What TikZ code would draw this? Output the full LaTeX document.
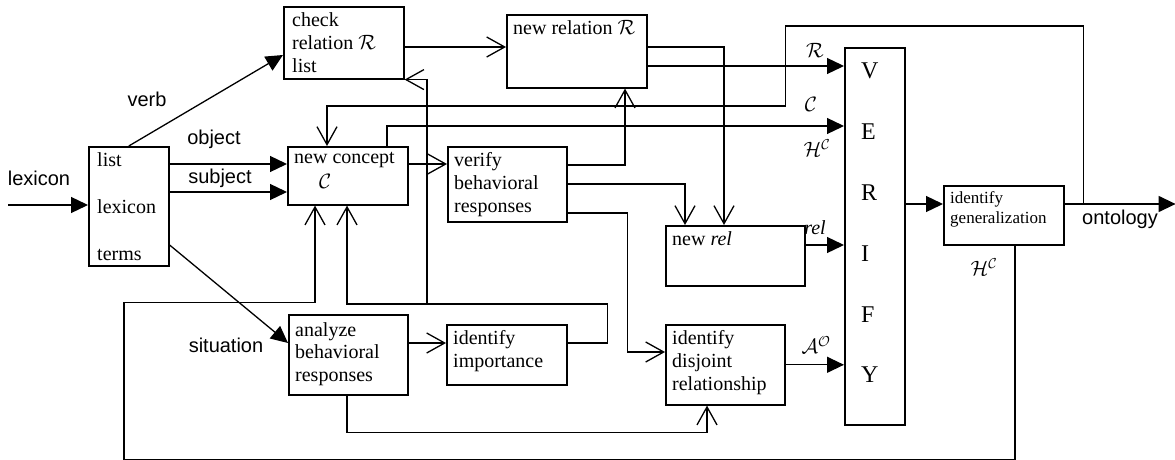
\documentclass[tikz,border=0pt]{standalone}
\usepackage{fontspec}
\setmainfont{Liberation Serif}
\setsansfont{Liberation Sans}
\usetikzlibrary{arrows.meta}

\tikzset{
  box/.style={draw, line width=1.6pt, inner sep=0pt, anchor=north west},
  txt/.style={anchor=north west, align=left, inner xsep=7pt, inner ysep=6pt, font=\fontsize{20}{23}\selectfont},
  lbl/.style={font=\sffamily\fontsize{20}{23}\selectfont, inner sep=0pt},
  mlbl/.style={font=\fontsize{20}{23}\selectfont, inner sep=0pt},
  fed/.style={line width=1.3pt, -{Triangle[length=17pt,width=16pt]}},
  opn/.style={line width=1.3pt, -{Straight Barb[length=18pt,width=20pt]}},
}

\begin{document}
\begin{tikzpicture}[x=1pt, y=-1pt]
    \useasboundingbox (0,0) rectangle (1175,460);
    % boxes
    \node[box, minimum width=80pt, minimum height=119pt] (lex) at (88,146) {};
    \node[txt, inner xsep=9pt] (lext) at (lex.north west) {list\\[24pt]lexicon\\[24pt]terms};
    \node[box, minimum width=120pt, minimum height=72pt] (chk) at (283,6) {};
    \node[txt, inner xsep=9pt] (chkt) at (chk.north west) {check\\relation $\mathcal{R}$\\list};
    \node[box, minimum width=120pt, minimum height=58pt] (nc) at (287,146) {};
    \node[txt] (nct) at (nc.north west) {new concept\\[2pt]\hspace*{25pt}$\mathcal{C}$};
    \node[box, minimum width=140pt, minimum height=73pt] (nr) at (506,14) {};
    \node[txt] (nrt) at (nr.north west) {new relation $\mathcal{R}$};
    \node[box, minimum width=119pt, minimum height=75pt] (vb) at (447,146) {};
    \node[txt] (vbt) at (vb.north west) {verify\\behavioral\\responses};
    \node[box, minimum width=139pt, minimum height=60pt] (nrel) at (665,225) {};
    \node[txt] (nrelt) at (nrel.north west) {new \textit{rel}};
    \node[box, minimum width=60pt, minimum height=377pt] (ver) at (844,47) {};
    \node[anchor=north west, align=left, inner sep=0pt, font=\fontsize{24}{60.8}\selectfont] (vert) at (861,63) {V\\E\\R\\I\\F\\Y};
    \node[box, minimum width=120pt, minimum height=59pt] (ig) at (943,185) {};
    \node[txt, font=\fontsize{17}{20}\selectfont] (igt) at (ig.north west) {identify\\generalization};
    \node[box, minimum width=119pt, minimum height=80pt] (an) at (288,314) {};
    \node[txt, inner ysep=8pt, font=\fontsize{20}{22.5}\selectfont] (ant) at (an.north west) {analyze\\behavioral\\responses};
    \node[box, minimum width=120pt, minimum height=60pt] (ii) at (446,324) {};
    \node[txt] (iit) at (ii.north west) {identify\\importance};
    \node[box, minimum width=119pt, minimum height=80pt] (idr) at (665,324) {};
    \node[txt] (idrt) at (idr.north west) {identify\\disjoint\\relationship};

    % words out of the lexicon
    \coordinate (in) at (8,205);
    \draw[fed] (in) -- (in -| lex.west);
    \node[lbl] (lexl) at (39,178) {lexicon};
    \draw[fed] (lex.north) -- ([yshift=-49pt]chk.north west);
    \node[lbl] (verbl) at (147,99) {verb};
    \draw[fed] ([yshift=-18pt]lex.north east) -- ([yshift=-18pt]nc.north west);
    \node[lbl] (objl) at (214,139) {object};
    \draw[fed] ([yshift=-46pt]lex.north east) -- ([yshift=-46pt]nc.north west);
    \node[lbl] (subl) at (220,178) {subject};
    \draw[fed] ([yshift=-99pt]lex.north east) -- ([yshift=-29pt]an.north west);
    \node[lbl] (sitl) at (226,345) {situation};

    % relations
    \draw[opn] ([yshift=-41pt]chk.north east) -- ([yshift=-33pt]nr.north west);
    \draw[opn] ([yshift=-33pt]nr.north east) -| ([xshift=59pt]nrel.north west);
    \draw[fed] ([yshift=-52pt]nr.north east) coordinate (rr) -- (rr -| ver.west);
    \node[mlbl] (rl) at (815,50) {$\mathcal{R}$};

    \draw[opn] ([yshift=-18pt]nc.north east) -- ([yshift=-18pt]vb.north west);
    \draw[opn] ([yshift=-19pt]vb.north east) -| ([xshift=119pt]nr.south west);
    \draw[opn] ([yshift=-38pt]vb.north east) -| ([xshift=20pt]nrel.north west);
    \draw[opn] ([yshift=-67pt]vb.north east) -- ++(60,0) |- ([yshift=-28pt]idr.north west);

    % into VERIFY
    \draw[fed] ([xshift=100pt]nc.north west) |- ([yshift=-79pt]ver.north west);
    \node[mlbl] (cl) at (811,104) {$\mathcal{C}$};
    \node[mlbl] (hl) at (817,148) {$\mathcal{H}^{\mathcal{C}}$};
    \draw[fed] ([yshift=-20pt]nrel.north east) coordinate (re) -- (re -| ver.west);
    \node[mlbl] (rell) at (815,228) {\textit{rel}};
    \draw[fed] (idr.east) -- (idr.east -| ver.west);
    \node[mlbl] (aol) at (816,345) {$\mathcal{A}^{\mathcal{O}}$};

    % generalization, ontology and feedback
    \coordinate (gi) at ([yshift=-19pt]ig.north west);
    \draw[fed] (gi -| ver.east) -- (gi);
    \draw[fed] ([yshift=-19pt]ig.north east) -- ++(111,0) coordinate (out);
    \node[lbl] (ontl) at (1120,219) {ontology};
    \draw[opn] ([xshift=19pt,yshift=-19pt]ig.north east) -- ++(0,-178) -| ++(-298,80) -| ([xshift=40pt]nc.north west);
    \draw[opn] ([xshift=72pt]ig.south west) -- ++(0,214) -| ++(-891,-157) -| ([xshift=28pt]nc.south west);
    \node[mlbl] (hcl) at (984,267) {$\mathcal{H}^{\mathcal{C}}$};

    % behavioral analysis
    \coordinate (br) at (427,304);
    \draw[opn] ([yshift=-29pt]an.north east) -- ([yshift=-19pt]ii.north west);
    \draw[opn] ([yshift=-19pt]ii.north east) -- ++(40,0) |- (br) -| ([xshift=60pt]nc.south west);
    \draw[opn] (br) |- (chk.south east);
    \draw[opn] ([xshift=59pt]an.south west) -- ++(0,37) -| ([xshift=42pt]idr.south west);
\end{tikzpicture}
\end{document}
